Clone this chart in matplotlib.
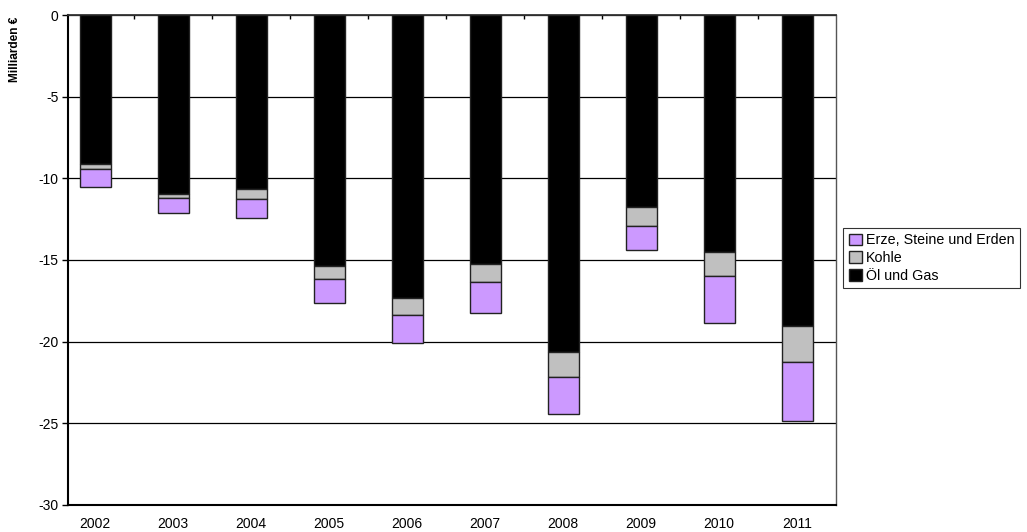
import matplotlib.pyplot as plt
import numpy as np

plt.rcParams['font.family'] = ['Liberation Sans', 'DejaVu Sans']
plt.rcParams['axes.unicode_minus'] = False

# Daten (Milliarden €, negative Werte = Importüberschuss)
years = ['2002', '2003', '2004', '2005', '2006', '2007', '2008', '2009', '2010', '2011']
oel_gas = [-9.12, -10.94, -10.65, -15.35, -17.33, -15.25, -20.64, -11.76, -14.51, -19.04]
kohle = [-0.29, -0.26, -0.60, -0.80, -1.04, -1.12, -1.53, -1.16, -1.47, -2.21]
erze = [-1.10, -0.94, -1.20, -1.50, -1.73, -1.86, -2.24, -1.47, -2.88, -3.59]

series_names = ['Erze, Steine und Erden', 'Kohle', 'Öl und Gas']
series_colors = ['#cc99ff', '#c0c0c0', '#000000']

fig = plt.figure(figsize=(10.27, 5.32), dpi=100)
ax = fig.add_axes([0.0662, 0.0508, 0.748, 0.921])

x = np.arange(len(years))
w = 0.4
oel = np.array(oel_gas)
ko = np.array(kohle)
er = np.array(erze)

b_oel = ax.bar(x, oel, w, color=series_colors[2], edgecolor='#222222', linewidth=1, zorder=3)
b_ko = ax.bar(x, ko, w, bottom=oel, color=series_colors[1], edgecolor='#222222', linewidth=1, zorder=3)
b_er = ax.bar(x, er, w, bottom=oel + ko, color=series_colors[0], edgecolor='#222222', linewidth=1, zorder=3)

ax.set_ylim(-30, 0)
ax.set_xlim(-0.35, 9.5)
ax.set_yticks(np.arange(-30, 1, 5))
ax.set_xticks(x)
ax.set_xticklabels(years)
# Kategorie-Trennstriche an der Null-Linie (oben)
ax.set_xticks(x[:-1] + 0.5, minor=True)
ax.tick_params(axis='x', which='major', length=0, labelsize=10, pad=9)
ax.tick_params(axis='x', which='minor', bottom=False, top=True, direction='in',
               length=3, width=1, color='black')
ax.tick_params(axis='y', length=4, width=1, direction='out', labelsize=10, pad=3)
ax.yaxis.grid(True, color='black', linewidth=0.9, zorder=0)
ax.set_axisbelow(True)

for s in ['left', 'bottom']:
    ax.spines[s].set_linewidth(1.5)
    ax.spines[s].set_color('black')
ax.spines['top'].set_linewidth(1.3)
ax.spines['top'].set_color('#333333')
ax.spines['right'].set_linewidth(1)
ax.spines['right'].set_color('#555555')

fig.text(0.009, 0.968, 'Milliarden €', rotation=90, va='top', ha='left',
         fontsize=8.6, fontweight='bold')

leg = fig.legend([b_er, b_ko, b_oel], series_names, loc='upper left',
                 bbox_to_anchor=(0.821, 0.572), fontsize=10.3, frameon=True,
                 fancybox=False, edgecolor='black', handlelength=0.9,
                 handleheight=0.9, handletextpad=0.3, borderpad=0.4,
                 labelspacing=0.25, borderaxespad=0)
leg.get_frame().set_linewidth(0.8)

fig.savefig('out.png', dpi=100)
